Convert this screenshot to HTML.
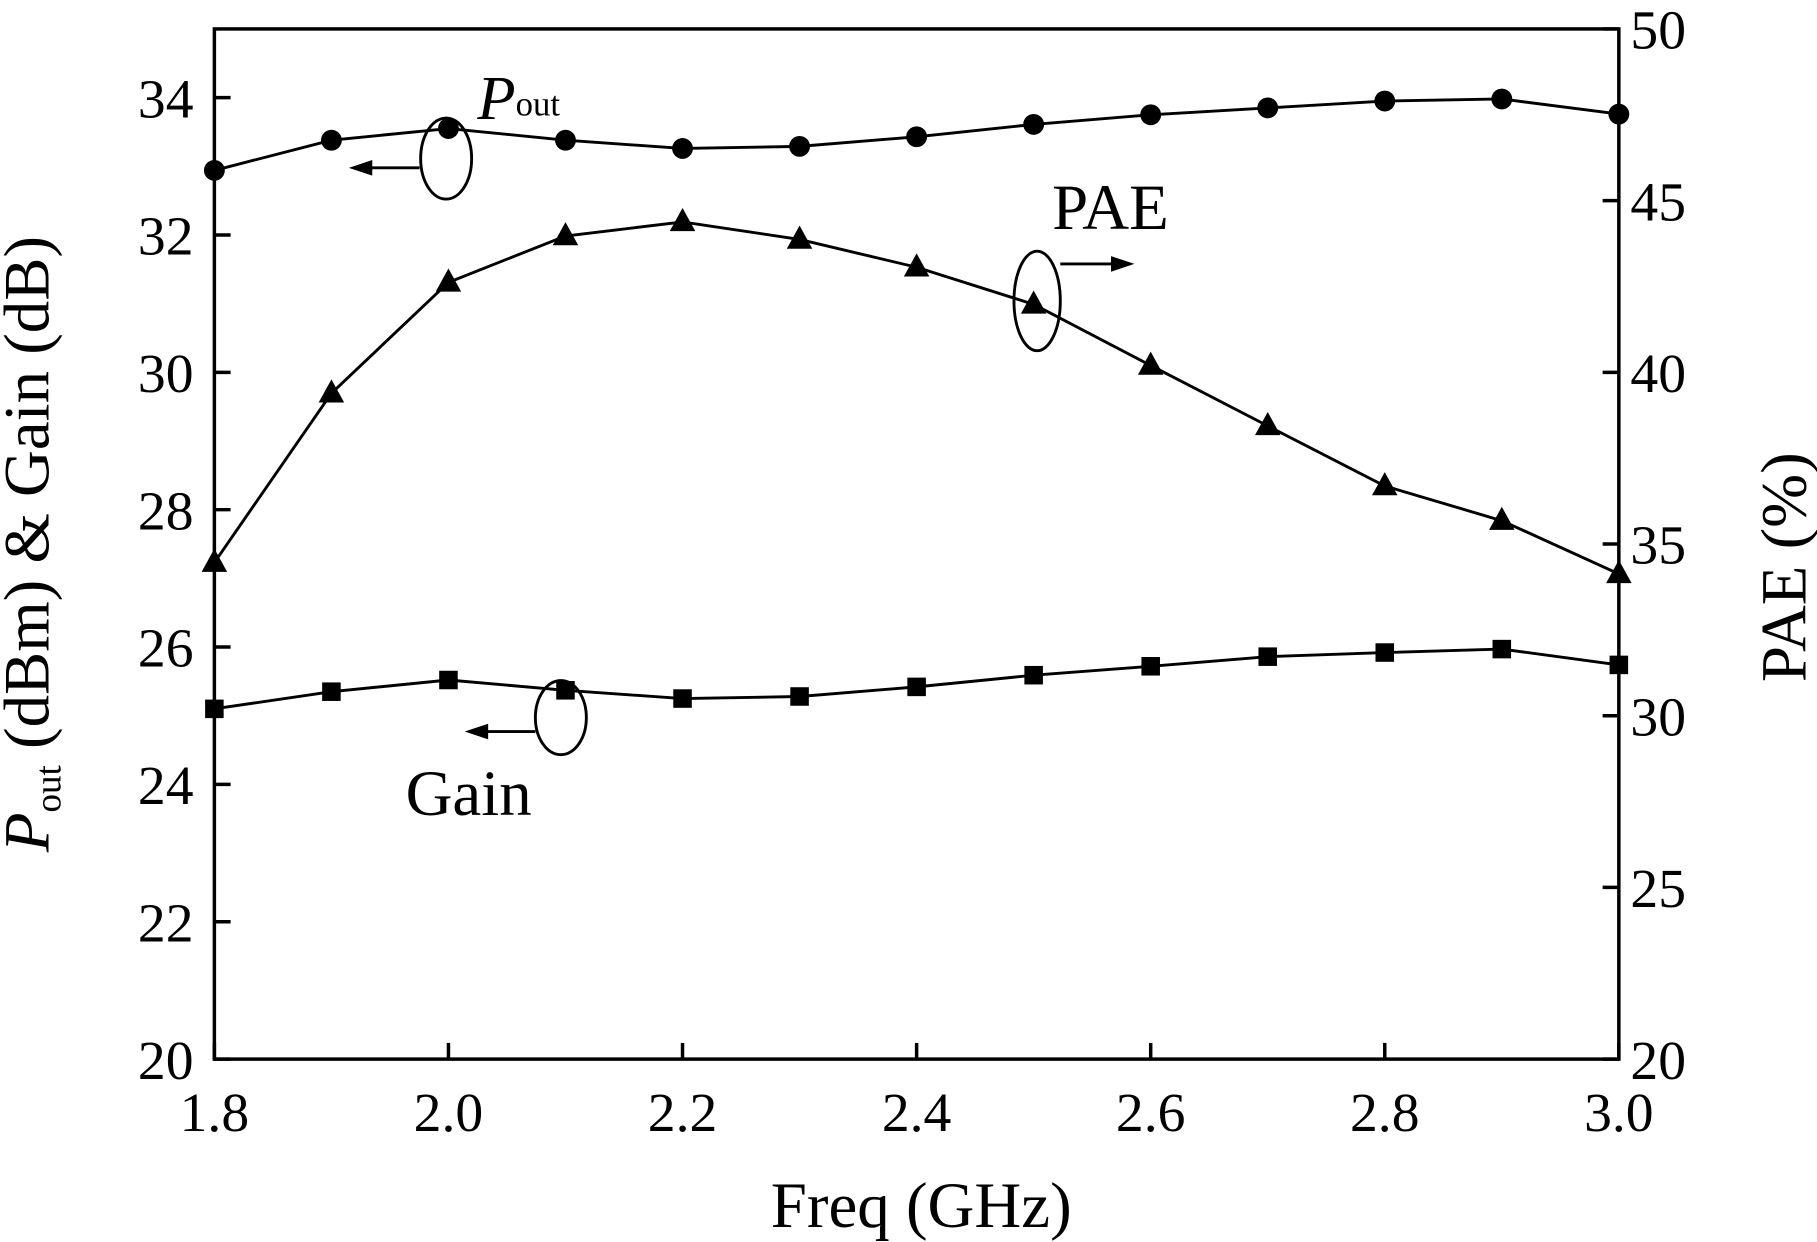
<!DOCTYPE html>
<html><head><meta charset="utf-8"><style>
html,body{margin:0;padding:0;background:#fff;}
svg{display:block;font-family:"Liberation Serif",serif;}
</style></head><body>
<svg id="chart" width="1817" height="1242" viewBox="0 0 1568 1073" preserveAspectRatio="none" xmlns="http://www.w3.org/2000/svg">
<g id="axes"></g>
<g id="series"></g>
<g stroke="#000" stroke-width="2.5" fill="none">
  <ellipse cx="385" cy="137" rx="22" ry="35"/>
  <line x1="362" y1="145" x2="318" y2="145"/>
  <polygon points="305,145 320,140 320,150" fill="#000"/>
  <ellipse cx="895" cy="260" rx="20" ry="43"/>
  <line x1="915" y1="228" x2="962" y2="228"/>
  <polygon points="975,228 960,223 960,233" fill="#000"/>
  <ellipse cx="484" cy="620" rx="22" ry="32"/>
  <line x1="462" y1="632" x2="418" y2="632"/>
  <polygon points="405,632 420,627 420,637" fill="#000"/>
</g>
<text x="412" y="103" font-size="54" font-style="italic">P</text>
<text x="445" y="100" font-size="30">out</text>
<text x="908" y="198" font-size="56">PAE</text>
<text x="350" y="704" font-size="56">Gain</text>
<text x="795" y="1060" font-size="56" text-anchor="middle">Freq (GHz)</text>
<text transform="translate(42,470) rotate(-90)" font-size="56" text-anchor="middle"><tspan font-style="italic">P</tspan><tspan font-size="32" dy="10">out</tspan><tspan dy="-10"> (dBm) &amp; Gain (dB)</tspan></text>
<text transform="translate(1558,490) rotate(-90)" font-size="56" text-anchor="middle">PAE (%)</text>
</svg>
<script>
const freqs=[1.8,1.9,2.0,2.1,2.2,2.3,2.4,2.5,2.6,2.7,2.8,2.9,3.0];
const pout=[32.94,33.38,33.55,33.38,33.26,33.29,33.43,33.61,33.75,33.85,33.95,33.98,33.76];
const gain=[25.1,25.35,25.52,25.37,25.25,25.28,25.42,25.59,25.72,25.86,25.92,25.97,25.74];
const pae=[34.46,39.39,42.62,43.97,44.38,43.87,43.06,41.98,40.2,38.44,36.69,35.68,34.13];
const xTicks=["1.8","2.0","2.2","2.4","2.6","2.8","3.0"];
const yLeftTicks=["20","22","24","26","28","30","32","34"];
const yRightTicks=["20","25","30","35","40","45","50"];
const L=185,R=1397,T=25,B=915;
const xs=v=>L+(v-1.8)/(3.0-1.8)*(R-L);
const yl=v=>B-(v-20)/(35-20)*(B-T);
const yr=v=>B-(v-20)/(50-20)*(B-T);
const NS="http://www.w3.org/2000/svg";
function mk(tag,attrs,parent){const e=document.createElementNS(NS,tag);for(const k in attrs)e.setAttribute(k,attrs[k]);parent.appendChild(e);return e;}
const ax=document.getElementById('axes'),se=document.getElementById('series');
let fr=mk('rect',{x:L,y:T,width:R-L,height:B-T,fill:'none',stroke:'#000','stroke-width':3},ax);


xTicks.forEach(t=>{const x=xs(+t);
 let l=mk('line',{x1:x,y1:B,x2:x,y2:B-14,stroke:'#000','stroke-width':3},ax);
 
 
 let tx=mk('text',{x:x,y:B+62,'font-size':48,'text-anchor':'middle'},ax);tx.textContent=t;
 
 });
yLeftTicks.forEach(t=>{const y=yl(+t);
 let l=mk('line',{x1:L,y1:y,x2:L+14,y2:y,stroke:'#000','stroke-width':3},ax);
 
 
 let tx=mk('text',{x:L-18,y:y+17,'font-size':48,'text-anchor':'end'},ax);tx.textContent=t;
 
 });
yRightTicks.forEach(t=>{const y=yr(+t);
 let l=mk('line',{x1:R,y1:y,x2:R-14,y2:y,stroke:'#000','stroke-width':3},ax);
 
 
 let tx=mk('text',{x:R+10,y:y+17,'font-size':48},ax);tx.textContent=t;
 
 });
function series(vals,yf,name,shape){
 const pts=vals.map((v,i)=>[xs(freqs[i]),yf(v)]);
 let pl=mk('polyline',{points:pts.map(p=>p.join(',')).join(' '),fill:'none',stroke:'#000','stroke-width':2.5},se);
 
 
 pts.forEach(([x,y])=>{let m;
  if(shape==='circle')m=mk('circle',{cx:x,cy:y,r:9,fill:'#000'},se);
  else if(shape==='square')m=mk('rect',{x:x-8,y:y-8,width:16,height:16,fill:'#000'},se);
  else m=mk('polygon',{points:`${x},${y-12} ${x-11},${y+8} ${x+11},${y+8}`,fill:'#000'},se);
  
  });
}
series(pout,yl,'pout','circle');
series(gain,yl,'gain','square');
series(pae,yr,'pae','triangle');
</script>
</body></html>
